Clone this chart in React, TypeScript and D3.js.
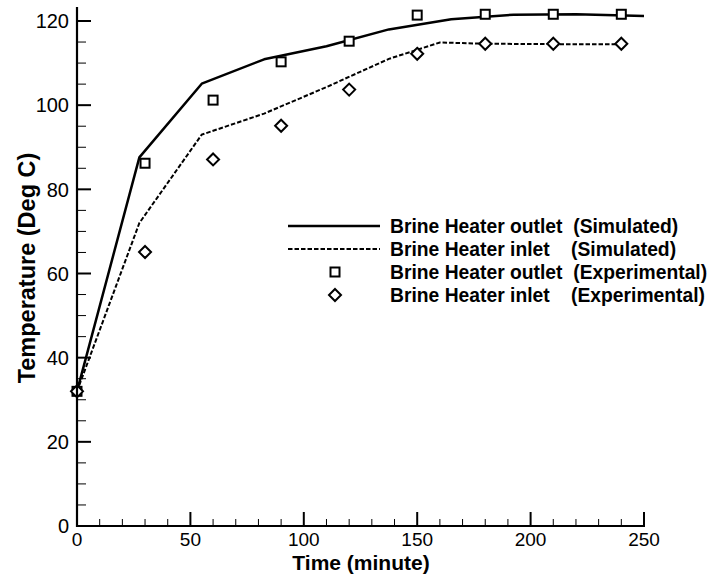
import React from "react";
import * as d3 from "d3";

const simOutTime = [0, 27.5, 55, 82.5, 110, 137.5, 165, 192.5, 220, 250];
const simOutTemp = [32, 87.6, 105.1, 110.9, 114, 118, 120.4, 121.5, 121.6, 121.2];
const simInTime = [0, 27.5, 55, 82.5, 110, 137.5, 160, 180, 210, 240];
const simInTemp = [32, 72, 93, 98, 104.3, 111, 114.9, 114.6, 114.5, 114.5];
const expTime = [0, 30, 60, 90, 120, 150, 180, 210, 240];
const expOutTemp = [32, 86.2, 101.2, 110.3, 115.2, 121.4, 121.6, 121.6, 121.6];
const expInTemp = [32, 65.1, 87.1, 95.1, 103.7, 112.2, 114.6, 114.6, 114.6];
const xTicks = [0, 50, 100, 150, 200, 250];
const yTicks = [0, 20, 40, 60, 80, 100, 120];
const legendLabels = [
  "Brine Heater outlet  (Simulated)",
  "Brine Heater inlet    (Simulated)",
  "Brine Heater outlet  (Experimental)",
  "Brine Heater inlet    (Experimental)",
];

const FONT = "'Liberation Sans', Arial, Helvetica, sans-serif";

export default function App() {
  const x = d3.scaleLinear().domain([0, 250]).range([77, 644]);
  const y = d3.scaleLinear().domain([0, 120]).range([526, 21]);
  const yTop = 7;

  const line = d3
    .line<[number, number]>()
    .x((d) => x(d[0]))
    .y((d) => y(d[1]));

  const outPath = line(simOutTime.map((t, i) => [t, simOutTemp[i]]) as [number, number][]) || "";
  const inPath = line(simInTime.map((t, i) => [t, simInTemp[i]]) as [number, number][]) || "";

  const xMinor = d3.range(0, 251, 10).filter((v) => v % 50 !== 0);
  const yMinor = d3.range(0, 121, 5).filter((v) => v % 20 !== 0);
  const square = (cx: number, cy: number, k: string) => (
    <rect key={k} x={cx - 4.5} y={cy - 4.5} width={9} height={9} fill="white" stroke="black" strokeWidth={2} />
  );
  const diamond = (cx: number, cy: number, k: string) => (
    <path
      key={k}
      d={`M${cx},${cy - 6}L${cx + 6},${cy}L${cx},${cy + 6}L${cx - 6},${cy}Z`}
      fill="white"
      stroke="black"
      strokeWidth={2}
    />
  );

  const legendY = [226, 249, 272, 295];

  return (
    <svg
      width={709}
      height={575}
      style={{ position: "absolute", left: 0, top: 0, background: "white" }}
      fontFamily={FONT}
    >
      <rect x={0} y={0} width={709} height={575} fill="white" />
      <path d={outPath} fill="none" stroke="black" strokeWidth={2.5} strokeLinejoin="round" />
      <path d={inPath} fill="none" stroke="black" strokeWidth={2} strokeDasharray="4.5,2" />
      {expTime.map((t, i) => square(x(t), y(expOutTemp[i]), "s" + i))}
      {expTime.map((t, i) => diamond(x(t), y(expInTemp[i]), "d" + i))}

      <line x1={x(0)} x2={x(0)} y1={yTop} y2={y(0) + 1} stroke="black" strokeWidth={2.2} />
      <line x1={x(0) - 1} x2={x(250) + 1} y1={y(0)} y2={y(0)} stroke="black" strokeWidth={2.2} />
      {yTicks.map((v) => (
        <g key={"yt" + v}>
          <line x1={x(0)} x2={x(0) + 14} y1={y(v)} y2={y(v)} stroke="black" strokeWidth={2} />
          <text x={69} y={y(v)} dy="0.36em" textAnchor="end" fontSize={20}>
            {v}
          </text>
        </g>
      ))}
      {yMinor.map((v) => (
        <line key={"ym" + v} x1={x(0)} x2={x(0) + 9} y1={y(v)} y2={y(v)} stroke="black" strokeWidth={1} />
      ))}
      {xTicks.map((v) => (
        <g key={"xt" + v}>
          <line x1={x(v)} x2={x(v)} y1={y(0)} y2={y(0) - 14} stroke="black" strokeWidth={2} />
          <text x={x(v)} y={545.5} textAnchor="middle" fontSize={19}>
            {v}
          </text>
        </g>
      ))}
      {xMinor.map((v) => (
        <line key={"xm" + v} x1={x(v)} x2={x(v)} y1={y(0)} y2={y(0) - 7} stroke="black" strokeWidth={1} />
      ))}

      <text x={361} y={570} textAnchor="middle" fontSize={21} fontWeight="bold">
        Time (minute)
      </text>
      <text
        transform={`translate(35,268) rotate(-90)`}
        textAnchor="middle"
        fontSize={23.5}
        fontWeight="bold"
      >
        Temperature (Deg C)
      </text>

      <line x1={288} x2={380} y1={legendY[0]} y2={legendY[0]} stroke="black" strokeWidth={2.5} />
      <line x1={288} x2={380} y1={legendY[1]} y2={legendY[1]} stroke="black" strokeWidth={2} strokeDasharray="4.5,2" />
      {square(335, legendY[2], "ls")}
      {diamond(335, legendY[3], "ld")}
      {legendLabels.map((s, i) => (
        <text key={"lg" + i} x={390} y={legendY[i]} dy="0.36em" fontSize={19.3} fontWeight="bold" style={{ whiteSpace: "pre" }}>
          {s}
        </text>
      ))}
    </svg>
  );
}
